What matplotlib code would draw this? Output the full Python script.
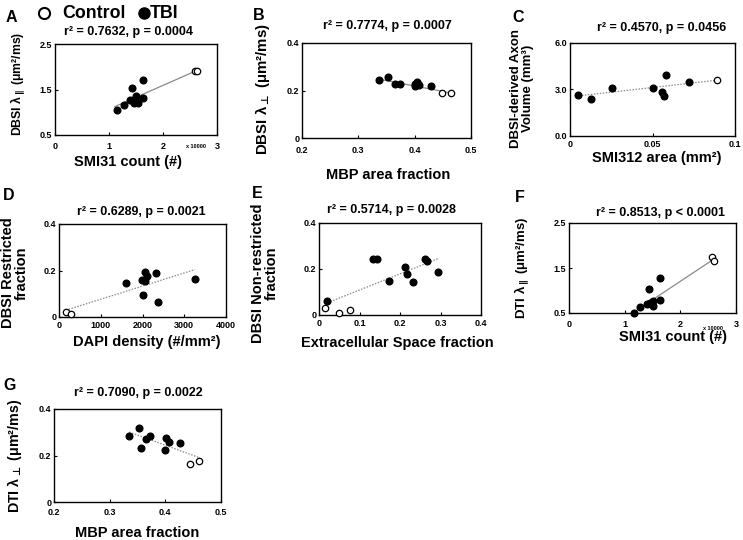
import matplotlib
matplotlib.use('Agg')
import matplotlib.pyplot as plt

plt.rcParams['font.family'] = ['Liberation Sans', 'DejaVu Sans']
plt.rcParams['font.weight'] = 'bold'
plt.rcParams['mathtext.fontset'] = 'dejavusans'

# ---------------- data ----------------
# A: DBSI axial vs SMI31 count (x10000)
a_tbi_x = [1.14, 1.28, 1.39, 1.42, 1.48, 1.50, 1.47, 1.53, 1.63, 1.63]
a_tbi_y = [1.05, 1.16, 1.26, 1.53, 1.29, 1.36, 1.21, 1.21, 1.31, 1.71]
a_ctrl_x = [2.60, 2.63]
a_ctrl_y = [1.90, 1.90]
a_trend_x = [1.11, 2.63]
a_trend_y = [1.125, 1.92]

# B: DBSI radial vs MBP area fraction
b_tbi_x = [0.337, 0.353, 0.365, 0.374, 0.400, 0.401, 0.404, 0.408, 0.429]
b_tbi_y = [0.246, 0.258, 0.227, 0.227, 0.218, 0.229, 0.234, 0.225, 0.220]
b_ctrl_x = [0.448, 0.464]
b_ctrl_y = [0.191, 0.191]
b_trend_x = [0.340, 0.464]
b_trend_y = [0.246, 0.190]

# C: DBSI axon volume vs SMI312 area
c_tbi_x = [0.005, 0.0127, 0.0257, 0.0505, 0.056, 0.057, 0.058, 0.072]
c_tbi_y = [2.62, 2.36, 3.12, 3.12, 2.84, 2.57, 3.93, 3.51]
c_ctrl_x = [0.089]
c_ctrl_y = [3.62]
c_trend_x = [0.0036, 0.0889]
c_trend_y = [2.57, 3.60]

# D: DBSI restricted fraction vs DAPI density
d_tbi_x = [1616, 1992, 2056, 2096, 2056, 2016, 2312, 2376, 3256]
d_tbi_y = [0.148, 0.160, 0.193, 0.178, 0.156, 0.093, 0.188, 0.064, 0.163]
d_ctrl_x = [176, 296]
d_ctrl_y = [0.020, 0.012]
d_trend_x = [232, 3256]
d_trend_y = [0.033, 0.204]

# E: DBSI non-restricted fraction vs extracellular space fraction
e_tbi_x = [0.020, 0.134, 0.143, 0.172, 0.212, 0.217, 0.233, 0.261, 0.267, 0.293]
e_tbi_y = [0.062, 0.245, 0.245, 0.147, 0.209, 0.178, 0.143, 0.245, 0.235, 0.185]
e_ctrl_x = [0.016, 0.050, 0.077]
e_ctrl_y = [0.029, 0.010, 0.022]
e_trend_x = [0.028, 0.294]
e_trend_y = [0.058, 0.245]

# F: DTI axial vs SMI31 count
f_tbi_x = [1.16, 1.28, 1.40, 1.43, 1.46, 1.50, 1.51, 1.63, 1.63]
f_tbi_y = [0.49, 0.63, 0.70, 1.04, 0.73, 0.77, 0.66, 1.27, 0.79]
f_ctrl_x = [2.56, 2.60]
f_ctrl_y = [1.75, 1.66]
f_trend_x = [1.13, 2.58]
f_trend_y = [0.49, 1.68]

# G: DTI radial vs MBP area fraction
g_tbi_x = [0.335, 0.353, 0.356, 0.365, 0.372, 0.401, 0.406, 0.399, 0.427]
g_tbi_y = [0.282, 0.318, 0.231, 0.270, 0.285, 0.274, 0.260, 0.225, 0.255]
g_ctrl_x = [0.445, 0.461]
g_ctrl_y = [0.165, 0.175]
g_trend_x = [0.335, 0.462]
g_trend_y = [0.301, 0.190]

titles = ['r² = 0.7632, p = 0.0004', 'r² = 0.7774, p = 0.0007', 'r² = 0.4570, p = 0.0456',
          'r² = 0.6289, p = 0.0021', 'r² = 0.5714, p = 0.0028', 'r² = 0.8513, p < 0.0001',
          'r² = 0.7090, p = 0.0022']

# ---------------- layout helpers ----------------
W, H = 743, 540
fig = plt.figure(figsize=(W / 100, H / 100), dpi=100)


def axbox(l, r, t, b):
    return fig.add_axes([l / W, 1 - b / H, (r - l) / W, (b - t) / H])


def ftext(x, y, s, **kw):
    kw.setdefault('ha', 'center')
    kw.setdefault('va', 'center')
    kw.setdefault('fontweight', 'bold')
    fig.text(x / W, 1 - y / H, s, **kw)


def panel(ax, tbi_x, tbi_y, ctrl_x, ctrl_y, tr_x, tr_y, xlim, ylim, xt, xtl, yt, ytl, dotted, xpad=5):
    ls = (0, (1.2, 1.2)) if dotted else '-'
    ax.plot(tr_x, tr_y, color='#8a8a8a', lw=0.9, ls=ls, zorder=2)
    ax.plot(tbi_x, tbi_y, 'o', color='black', ms=4.8, zorder=3, clip_on=False)
    ax.plot(ctrl_x, ctrl_y, 'o', mfc='white', mec='black', mew=0.9, ms=4.6, zorder=3, clip_on=False)
    ax.set_xlim(*xlim)
    ax.set_ylim(*ylim)
    ax.set_xticks(xt)
    ax.set_xticklabels(xtl)
    ax.set_yticks(yt)
    ax.set_yticklabels(ytl)
    ax.tick_params(direction='in', length=2.5, width=0.8, labelsize=6.5)
    ax.tick_params(axis='x', pad=xpad)
    ax.tick_params(axis='y', pad=2)
    for s in ax.spines.values():
        s.set_linewidth(1.0)
        s.set_color('black')


axA = axbox(55, 217, 44, 135)
panel(axA, a_tbi_x, a_tbi_y, a_ctrl_x, a_ctrl_y, a_trend_x, a_trend_y, (0, 3), (0.5, 2.5),
      [0, 1, 2, 3], ['0', '1', '2', '3'], [0.5, 1.5, 2.5], ['0.5', '1.5', '2.5'], False, 5)

axB = axbox(302, 471, 43, 138)
panel(axB, b_tbi_x, b_tbi_y, b_ctrl_x, b_ctrl_y, b_trend_x, b_trend_y, (0.2, 0.5), (0, 0.4),
      [0.2, 0.3, 0.4, 0.5], ['0.2', '0.3', '0.4', '0.5'], [0, 0.2, 0.4], ['0', '0.2', '0.4'], False, 6)

axC = axbox(570, 735, 43, 136)
panel(axC, c_tbi_x, c_tbi_y, c_ctrl_x, c_ctrl_y, c_trend_x, c_trend_y, (0, 0.1), (0, 6),
      [0, 0.05, 0.1], ['0', '0.05', '0.1'], [0, 3, 6], ['0.0', '3.0', '6.0'], True, 3)

axD = axbox(59, 226, 224, 317)
panel(axD, d_tbi_x, d_tbi_y, d_ctrl_x, d_ctrl_y, d_trend_x, d_trend_y, (0, 4000), (0, 0.4),
      [0, 1000, 2000, 3000, 4000], ['0', '1000', '2000', '3000', '4000'],
      [0, 0.2, 0.4], ['0', '0.2', '0.4'], True, 3)

axE = axbox(319, 481, 223, 315)
panel(axE, e_tbi_x, e_tbi_y, e_ctrl_x, e_ctrl_y, e_trend_x, e_trend_y, (0, 0.4), (0, 0.4),
      [0, 0.1, 0.2, 0.3, 0.4], ['0', '0.1', '0.2', '0.3', '0.4'],
      [0, 0.2, 0.4], ['0', '0.2', '0.4'], True, 3)

axF = axbox(569, 736, 223, 313)
panel(axF, f_tbi_x, f_tbi_y, f_ctrl_x, f_ctrl_y, f_trend_x, f_trend_y, (0, 3), (0.5, 2.5),
      [0, 1, 2, 3], ['0', '1', '2', '3'], [0.5, 1.5, 2.5], ['0.5', '1.5', '2.5'], False, 5)

axG = axbox(54, 221, 409, 502)
panel(axG, g_tbi_x, g_tbi_y, g_ctrl_x, g_ctrl_y, g_trend_x, g_trend_y, (0.2, 0.5), (0, 0.4),
      [0.2, 0.3, 0.4, 0.5], ['0.2', '0.3', '0.4', '0.5'], [0, 0.2, 0.4], ['0', '0.2', '0.4'], True, 4)

# titles
tpos = [(128, 32), (387, 26), (662, 28), (141, 212), (391, 210), (660, 213), (138, 393)]
for (x, y), t in zip(tpos, titles):
    ftext(x, y, t, fontsize=9)

# panel letters
for (x, y), l in zip([(11, 17), (259, 16), (518, 17), (9, 195), (257, 193), (520, 198), (10, 385)],
                     'ABCDEFG'):
    ftext(x, y, l, fontsize=11.5)

# x labels
xl = 10.5
ftext(128, 162, 'SMI31 count (#)', fontsize=xl)
ftext(388, 175, 'MBP area fraction', fontsize=xl)
ftext(657, 158, 'SMI312 area (mm²)', fontsize=xl)
ftext(147, 342, 'DAPI density (#/mm²)', fontsize=xl)
ftext(397, 343, 'Extracellular Space fraction', fontsize=xl)
ftext(673, 337, 'SMI31 count (#)', fontsize=xl)
ftext(137, 533, 'MBP area fraction', fontsize=xl)

# x 10000 multipliers
ftext(196, 147, 'x 10000', fontsize=4)
ftext(713, 328, 'x 10000', fontsize=4)

# y labels
ftext(18, 84, r'DBSI λ$_{\parallel}$ (μm²/ms)', fontsize=8.8, rotation=90)
ftext(262, 89, r'DBSI λ$_{\bot}$ (μm²/ms)', fontsize=10.8, rotation=90)
ftext(522, 88, 'DBSI-derived Axon\nVolume (mm³)', fontsize=9.5, rotation=90, linespacing=1.0)
ftext(15, 273, 'DBSI Restricted\nfraction', fontsize=10.5, rotation=90, linespacing=1.0)
ftext(265, 273, 'DBSI Non-restricted\nfraction', fontsize=10.5, rotation=90, linespacing=1.0)
ftext(522, 268, r'DTI λ$_{\parallel}$ (μm²/ms)', fontsize=9.5, rotation=90)
ftext(15, 456, r'DTI λ$_{\bot}$ (μm²/ms)', fontsize=10.3, rotation=90)

# legend
fig.lines.append(plt.Line2D([43.5 / W], [1 - 12.5 / H], marker='o', ms=8, mfc='white', mec='black',
                            mew=1.5, transform=fig.transFigure, ls='none'))
fig.lines.append(plt.Line2D([143.5 / W], [1 - 12.5 / H], marker='o', ms=8, color='black',
                            transform=fig.transFigure, ls='none'))
ftext(62, 13, 'Control', fontsize=12.8, ha='left')
ftext(150, 13, 'TBI', fontsize=12.8, ha='left')

fig.savefig('out.png', dpi=100)
